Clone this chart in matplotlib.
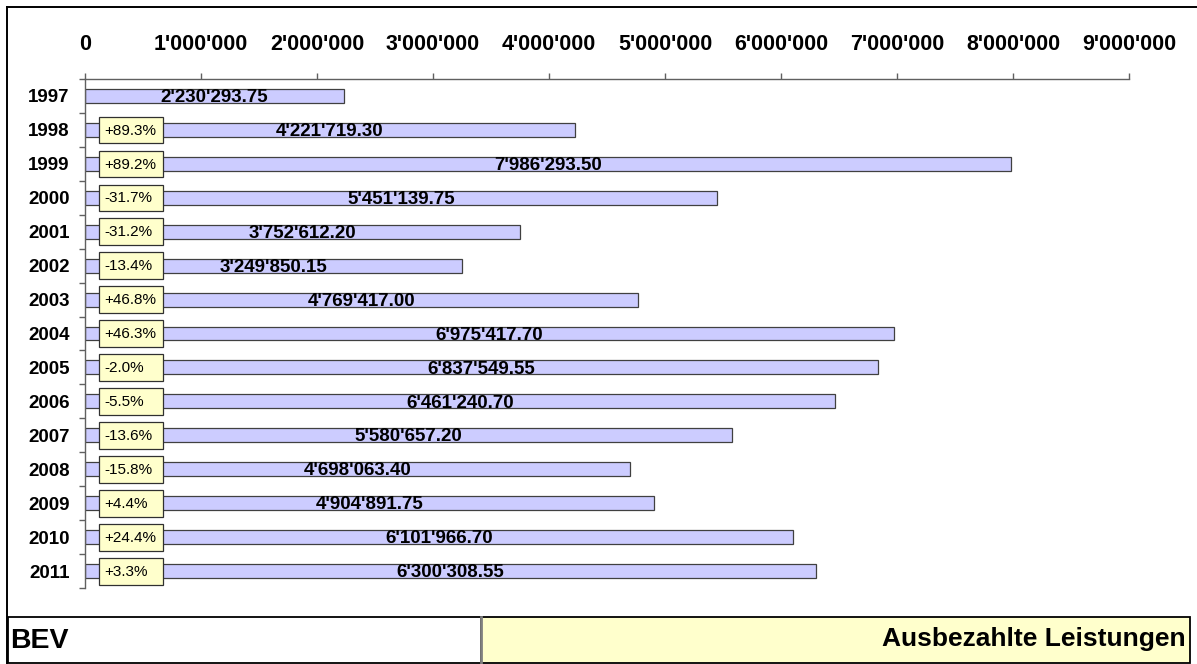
import numpy as np
import matplotlib
matplotlib.use("Agg")
import matplotlib.pyplot as plt
from matplotlib.patches import Rectangle
from matplotlib.lines import Line2D
from matplotlib.ticker import FuncFormatter, FixedLocator

plt.rcParams["font.family"] = ["Liberation Sans", "DejaVu Sans"]

years = ["1997", "1998", "1999", "2000", "2001", "2002", "2003", "2004",
         "2005", "2006", "2007", "2008", "2009", "2010", "2011"]
payouts = [2230293.75, 4221719.30, 7986293.50, 5451139.75, 3752612.20,
           3249850.15, 4769417.00, 6975417.70, 6837549.55, 6461240.70,
           5580657.20, 4698063.40, 4904891.75, 6101966.70, 6300308.55]
x_ticks = [0, 1e6, 2e6, 3e6, 4e6, 5e6, 6e6, 7e6, 8e6, 9e6]

BAR_FILL = "#CCCCFF"
NOTE_FILL = "#FFFFCC"
AXIS_GREY = "#606060"


def swiss(v, decimals=0):
    s = f"{v:,.{decimals}f}"
    return s.replace(",", "'")


W, H = 1197, 664
fig = plt.figure(figsize=(W / 100, H / 100), dpi=100)
fig.patch.set_facecolor("white")

ax = fig.add_axes([85 / W, 1 - 588 / H, (1129 - 85) / W, (588 - 79) / H])
pos = np.arange(len(years))
vals = np.array(payouts)

ax.barh(pos, vals, height=0.41, color=BAR_FILL, edgecolor="#404040",
        linewidth=0.9, zorder=2)

# value labels centred on each bar
for p, v in zip(pos, vals):
    ax.text(v / 2, p + 0.05, swiss(v, 2), ha="center", va="center",
            fontsize=13.5, fontweight="bold", color="black", zorder=4)

# year-on-year change boxes
change = vals[1:] / vals[:-1] - 1
for p, c in zip(pos[1:], change):
    ax.add_patch(Rectangle((0.12e6, p - 0.39), 0.55e6, 0.79,
                           facecolor=NOTE_FILL, edgecolor="#303030",
                           linewidth=0.9, zorder=3))
    ax.text(0.165e6, p + 0.02, f"{c * 100:+.1f}%", ha="left", va="center",
            fontsize=11, color="black", zorder=4)

ax.set_xlim(0, 9e6)
ax.set_ylim(len(years) - 0.5, -0.5)

ax.xaxis.tick_top()
ax.set_xticks(x_ticks)
ax.xaxis.set_major_formatter(FuncFormatter(lambda v, _: swiss(v)))
ax.tick_params(axis="x", which="major", direction="out", length=4.5,
               width=1.0, color=AXIS_GREY, pad=13, labelsize=15.5,
               labelcolor="black")
for lab in ax.get_xticklabels():
    lab.set_fontweight("bold")

ax.set_yticks(pos)
ax.set_yticklabels(years, fontweight="bold", fontsize=13.5)
ax.yaxis.set_minor_locator(FixedLocator(np.arange(len(years) + 1) - 0.5))
ax.tick_params(axis="y", which="major", length=0, pad=11)
ax.tick_params(axis="y", which="minor", direction="out", length=4.5,
               width=1.0, color=AXIS_GREY)

for side in ["right", "bottom"]:
    ax.spines[side].set_visible(False)
for side in ["top", "left"]:
    ax.spines[side].set_color(AXIS_GREY)
    ax.spines[side].set_linewidth(1.0)

# outer frame lines
fig.add_artist(Line2D([7 / W, 1], [1 - 7 / H, 1 - 7 / H],
                      transform=fig.transFigure, color="black", lw=1.4))
fig.add_artist(Line2D([7 / W, 7 / W], [1 - 7 / H, 0],
                      transform=fig.transFigure, color="black", lw=1.4))

# footer panels
fig.add_artist(Rectangle((8 / W, 1 - 663 / H), (481 - 8) / W, 46 / H,
                         transform=fig.transFigure, facecolor="white",
                         edgecolor="black", lw=1.3))
fig.add_artist(Rectangle((481 / W, 1 - 663 / H), (1190 - 481) / W, 46 / H,
                         transform=fig.transFigure, facecolor=NOTE_FILL,
                         edgecolor="black", lw=1.3))
fig.add_artist(Line2D([481 / W, 481 / W], [1 - 663 / H, 1 - 617 / H],
                      transform=fig.transFigure, color="#808080", lw=2))
fig.text(10 / W, 1 - 641 / H, "BEV", ha="left", va="center",
         fontsize=20.5, fontweight="bold")
fig.text(1186 / W, 1 - 639 / H, "Ausbezahlte Leistungen", ha="right",
         va="center", fontsize=19, fontweight="bold")

fig.savefig("out.png", dpi=100)
